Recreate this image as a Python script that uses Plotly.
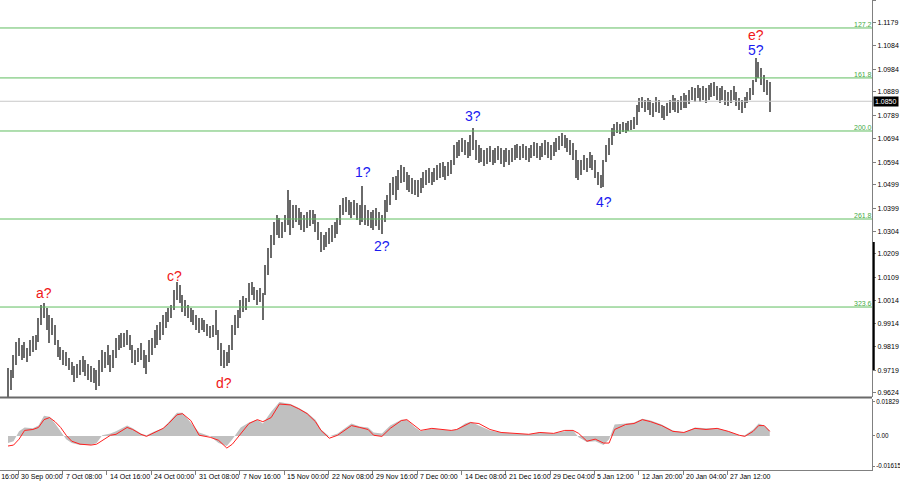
import plotly.graph_objects as go

# ---------------- data ----------------
bar_high = [
    0.9729,0.9721,0.9784,0.9838,0.9855,0.9826,0.9838,0.9813,0.9847,0.9864,
    0.9868,0.9939,0.9994,1.0002,0.9981,0.9952,0.9939,0.9910,0.9847,0.9817,
    0.9805,0.9796,0.9771,0.9754,0.9737,0.9746,0.9763,0.9780,0.9763,0.9746,
    0.9737,0.9729,0.9721,0.9763,0.9805,0.9796,0.9826,0.9784,0.9805,0.9855,
    0.9868,0.9876,0.9876,0.9889,0.9868,0.9826,0.9805,0.9813,0.9834,0.9805,
    0.9784,0.9847,0.9855,0.9889,0.9910,0.9922,0.9952,0.9964,0.9981,0.9994,
    1.0057,1.0091,1.0078,1.0036,1.0015,0.9994,0.9981,0.9973,0.9952,0.9939,
    0.9939,0.9931,0.9914,0.9906,0.9910,0.9973,0.9889,0.9834,0.9805,0.9796,
    0.9826,0.9910,0.9952,0.9973,1.0015,1.0032,1.0023,1.0086,1.0091,1.0070,
    1.0057,1.0065,1.0044,1.0162,1.0234,1.0288,1.0343,1.0372,1.0360,1.0343,
    1.0372,1.0477,1.0435,1.0414,1.0414,1.0402,1.0385,1.0372,1.0385,1.0393,
    1.0393,1.0376,1.0343,1.0301,1.0288,1.0301,1.0318,1.0330,1.0343,1.0360,
    1.0414,1.0444,1.0448,1.0435,1.0427,1.0435,1.0423,1.0414,1.0494,1.0414,
    1.0393,1.0385,1.0393,1.0402,1.0385,1.0372,1.0435,1.0456,1.0507,1.0532,
    1.0536,1.0561,1.0582,1.0574,1.0553,1.0540,1.0528,1.0519,1.0519,1.0528,
    1.0553,1.0561,1.0570,1.0553,1.0570,1.0582,1.0591,1.0595,1.0578,1.0595,
    1.0603,1.0667,1.0679,1.0688,1.0696,1.0688,1.0679,1.0709,1.0738,1.0688,
    1.0667,1.0654,1.0646,1.0654,1.0662,1.0646,1.0654,1.0662,1.0654,1.0646,
    1.0654,1.0646,1.0654,1.0667,1.0671,1.0662,1.0671,1.0662,1.0654,1.0667,
    1.0679,1.0675,1.0662,1.0675,1.0688,1.0679,1.0667,1.0679,1.0696,1.0704,
    1.0717,1.0709,1.0696,1.0688,1.0675,1.0646,1.0603,1.0603,1.0625,1.0612,
    1.0637,1.0625,1.0603,1.0553,1.0540,1.0603,1.0667,1.0696,1.0738,1.0755,
    1.0763,1.0755,1.0763,1.0759,1.0767,1.0772,1.0784,1.0835,1.0864,1.0868,
    1.0856,1.0864,1.0856,1.0843,1.0868,1.0856,1.0835,1.0830,1.0843,1.0856,
    1.0877,1.0864,1.0856,1.0873,1.0885,1.0877,1.0898,1.0910,1.0906,1.0919,
    1.0906,1.0915,1.0906,1.0919,1.0927,1.0931,1.0915,1.0906,1.0915,1.0898,
    1.0889,1.0898,1.0915,1.0889,1.0864,1.0856,1.0868,1.0889,1.0906,1.0940,
    1.1032,1.1015,1.0990,1.0961,1.0940,1.0931,
]
bar_low = [
    0.9607,0.9637,0.9687,0.9742,0.9780,0.9763,0.9771,0.9754,0.9780,0.9796,
    0.9805,0.9838,0.9910,0.9939,0.9889,0.9834,0.9868,0.9826,0.9775,0.9763,
    0.9742,0.9737,0.9721,0.9700,0.9670,0.9687,0.9700,0.9712,0.9695,0.9679,
    0.9670,0.9666,0.9637,0.9653,0.9712,0.9729,0.9742,0.9712,0.9729,0.9771,
    0.9805,0.9813,0.9817,0.9826,0.9805,0.9750,0.9742,0.9754,0.9763,0.9729,
    0.9704,0.9754,0.9784,0.9813,0.9826,0.9847,0.9868,0.9897,0.9922,0.9939,
    0.9973,1.0015,1.0002,0.9964,0.9948,0.9939,0.9922,0.9910,0.9889,0.9876,
    0.9889,0.9880,0.9864,0.9855,0.9859,0.9868,0.9805,0.9737,0.9729,0.9737,
    0.9750,0.9805,0.9868,0.9897,0.9939,0.9964,0.9973,1.0007,1.0036,1.0015,
    0.9994,1.0007,0.9931,1.0036,1.0120,1.0191,1.0246,1.0288,1.0276,1.0276,
    1.0301,1.0330,1.0288,1.0318,1.0343,1.0330,1.0309,1.0301,1.0318,1.0326,
    1.0334,1.0301,1.0267,1.0217,1.0225,1.0238,1.0250,1.0259,1.0276,1.0292,
    1.0330,1.0372,1.0385,1.0372,1.0360,1.0372,1.0351,1.0330,1.0343,1.0330,
    1.0326,1.0318,1.0309,1.0326,1.0309,1.0292,1.0343,1.0385,1.0414,1.0456,
    1.0435,1.0477,1.0507,1.0511,1.0477,1.0469,1.0460,1.0456,1.0448,1.0465,
    1.0486,1.0498,1.0507,1.0498,1.0511,1.0519,1.0528,1.0532,1.0519,1.0536,
    1.0545,1.0582,1.0612,1.0620,1.0637,1.0625,1.0612,1.0620,1.0646,1.0603,
    1.0591,1.0595,1.0578,1.0587,1.0595,1.0582,1.0591,1.0603,1.0587,1.0574,
    1.0595,1.0582,1.0595,1.0603,1.0612,1.0603,1.0612,1.0603,1.0595,1.0612,
    1.0620,1.0612,1.0603,1.0616,1.0625,1.0612,1.0603,1.0620,1.0637,1.0646,
    1.0662,1.0654,1.0637,1.0625,1.0603,1.0528,1.0519,1.0540,1.0561,1.0553,
    1.0570,1.0561,1.0528,1.0498,1.0486,1.0490,1.0595,1.0625,1.0667,1.0704,
    1.0717,1.0713,1.0721,1.0717,1.0725,1.0730,1.0734,1.0751,1.0805,1.0822,
    1.0805,1.0814,1.0793,1.0784,1.0805,1.0801,1.0780,1.0772,1.0788,1.0801,
    1.0814,1.0805,1.0801,1.0814,1.0822,1.0822,1.0839,1.0856,1.0847,1.0864,
    1.0847,1.0856,1.0843,1.0856,1.0868,1.0873,1.0856,1.0843,1.0856,1.0835,
    1.0830,1.0843,1.0856,1.0830,1.0814,1.0801,1.0822,1.0843,1.0856,1.0877,
    1.0931,1.0948,1.0919,1.0889,1.0877,1.0805,
]
bid_price = 1.0850

fib_labels = ["127.2", "161.8", "200.0", "261.8", "323.6"]
fib_prices = [1.1158, 1.0948, 1.0725, 1.0355, 0.9985]

price_ticks = [1.1275, 1.1179, 1.1084, 1.0984, 1.0889, 1.0789, 1.0694, 1.0594,
               1.0499, 1.0399, 1.0304, 1.0209, 1.0109, 1.0014, 0.9914, 0.9819,
               0.9719, 0.9624]

time_labels = ["22 Sep 16:00", "30 Sep 00:00", "7 Oct 08:00", "14 Oct 16:00",
               "24 Oct 00:00", "31 Oct 08:00", "7 Nov 16:00", "15 Nov 00:00",
               "22 Nov 08:00", "29 Nov 16:00", "7 Dec 00:00", "14 Dec 08:00",
               "21 Dec 16:00", "29 Dec 04:00", "5 Jan 12:00", "12 Jan 20:00",
               "20 Jan 04:00", "27 Jan 12:00"]
time_tick_bars = [-12.28, 3.72, 19.72, 35.72, 51.72, 67.72, 83.72, 99.72, 115.72,
                  131.72, 147.72, 163.72, 179.72, 195.72, 211.72, 227.72,
                  243.72, 259.72]

macd_bars = [0,2,4,6,9,11,13,15,17,19,21,23,26,30,32,34,37,39,43,45,48,50,53,56,58,
             61,63,66,69,73,76,79,81,84,87,90,92,95,98,102,105,108,111,113,116,119,
             122,124,127,130,132,135,138,142,144,147,149,153,156,160,162,165,167,170,
             174,178,183,188,192,197,201,204,206,209,212,215,217,219,223,226,229,232,
             236,240,244,248,252,256,260,264,266,269,271,273,275]
macd_hist = [-0.0038,-0.0028,0.0025,0.0046,0.0041,0.0056,0.0109,0.0104,0.0067,0.0025,
             -0.0017,-0.0038,-0.0049,-0.0049,-0.0038,0.0004,0.0014,0.0025,0.0056,0.0041,
             0.0014,0.0004,0.0025,0.0041,0.0077,0.0125,0.0125,0.0072,0.0019,-0.0002,
             -0.0038,-0.0054,-0.0017,0.0046,0.0072,0.0088,0.0067,0.0130,0.0183,0.0172,
             0.0151,0.0125,0.0088,0.0035,-0.0002,0.0014,0.0046,0.0067,0.0051,0.0046,
             0.0019,0.0014,0.0056,0.0088,0.0088,0.0046,0.0025,0.0041,0.0035,0.0030,
             0.0035,0.0067,0.0077,0.0056,0.0030,0.0019,0.0014,0.0009,0.0019,0.0014,
             0.0025,0.0030,-0.0007,-0.0033,-0.0028,-0.0049,-0.0017,0.0062,0.0067,0.0072,
             0.0093,0.0083,0.0062,0.0030,0.0019,0.0046,0.0041,0.0041,0.0025,0.0004,
             0.0004,0.0035,0.0067,0.0056,0.0030]
macd_signal = [-0.0054,-0.0049,-0.0017,0.0030,0.0035,0.0046,0.0088,0.0099,0.0077,0.0046,
               0.0004,-0.0028,-0.0044,-0.0049,-0.0044,-0.0023,0.0004,0.0009,0.0046,0.0035,
               0.0009,-0.0002,0.0019,0.0041,0.0067,0.0114,0.0120,0.0083,0.0004,-0.0007,
               -0.0023,-0.0065,-0.0044,0.0014,0.0067,0.0088,0.0077,0.0099,0.0172,0.0167,
               0.0146,0.0120,0.0077,0.0030,-0.0012,0.0004,0.0035,0.0056,0.0046,0.0035,
               0.0004,-0.0002,0.0041,0.0083,0.0088,0.0056,0.0030,0.0041,0.0035,0.0030,
               0.0035,0.0056,0.0072,0.0067,0.0035,0.0019,0.0014,0.0009,0.0019,0.0014,
               0.0030,0.0030,0.0014,-0.0028,-0.0017,-0.0038,-0.0038,0.0035,0.0062,0.0067,
               0.0088,0.0077,0.0056,0.0025,0.0019,0.0041,0.0035,0.0041,0.0025,0.0004,
               -0.0002,0.0025,0.0056,0.0056,0.0025]
macd_ticks = [0.01829, 0.0, -0.01615]
macd_ticktext = ["0.01829", "0.00", "-0.01615"]

wave_text = ["a?", "c?", "d?", "1?", "2?", "3?", "4?", "5?", "e?"]
wave_bar = [13, 60, 78, 128, 135, 168, 215, 270, 270]
wave_side = ["high", "high", "low", "high", "low", "high", "low", "high", "high"]
wave_color = ["#f01818", "#f01818", "#f01818", "#1a1af0", "#1a1af0", "#1a1af0",
              "#1a1af0", "#1a1af0", "#f01818"]
wave_shift = [0, -4, -5, 4, -2, 2, -4, -2, 13]

# ---------------- figure ----------------
N = len(bar_high)
XMIN, XMAX = -2.888, 311.91
FONT = "Liberation Sans"
GREEN = "rgb(96,190,96)"

fig = go.Figure()
fig.add_trace(go.Bar(
    x=list(range(N)), y=[h - l for h, l in zip(bar_high, bar_low)], base=bar_low,
    width=0.5, marker=dict(color="#6a6a6a", line=dict(width=0)),
    xaxis="x", yaxis="y", hoverinfo="skip", showlegend=False))

fig.add_trace(go.Scatter(
    x=macd_bars, y=macd_hist, mode="lines", line=dict(width=0, color="#c0c0c0"),
    fill="tozeroy", fillcolor="#c0c0c0", xaxis="x2", yaxis="y2",
    hoverinfo="skip", showlegend=False))
fig.add_trace(go.Scatter(
    x=macd_bars, y=macd_signal, mode="lines", line=dict(width=1, color="#ff2020"),
    xaxis="x2", yaxis="y2", hoverinfo="skip", showlegend=False))

shapes = []
for p in fib_prices:
    shapes.append(dict(type="line", xref="paper", yref="y", x0=0, x1=1, y0=p, y1=p,
                       line=dict(color=GREEN, width=1)))
shapes.append(dict(type="line", xref="paper", yref="y", x0=0, x1=1, y0=bid_price,
                   y1=bid_price, line=dict(color="#c8c8c8", width=1)))
# pane separator
shapes.append(dict(type="line", xref="paper", yref="paper", x0=0, x1=1,
                   y0=1 - 397.5 / 470, y1=1 - 397.5 / 470,
                   line=dict(color="#6a6a6a", width=2)))
# dark scale marker on right axis
shapes.append(dict(type="line", xref="paper", yref="paper", x0=1.002, x1=1.002,
                   y0=1 - 242 / 470, y1=1 - 370 / 470,
                   line=dict(color="#000000", width=2)))

ann = []
for lab, p in zip(fib_labels, fib_prices):
    ann.append(dict(text=lab, xref="paper", yref="y", x=1, y=p, xanchor="right",
                    yanchor="bottom", xshift=2, yshift=-2, showarrow=False,
                    font=dict(family=FONT, size=7, color="rgb(70,170,70)")))
ann.append(dict(text="%.4f" % bid_price, xref="paper", yref="y", x=1, y=bid_price,
                xanchor="left", yanchor="middle", xshift=1, showarrow=False,
                bgcolor="#000000", borderpad=1,
                font=dict(family=FONT, size=7, color="#ffffff")))
for lab, b in zip(time_labels, time_tick_bars):
    ann.append(dict(text=lab, xref="paper", yref="paper",
                    x=(b - XMIN) / (XMAX - XMIN), y=0, xanchor="left", yanchor="top",
                    xshift=1, yshift=-1, showarrow=False,
                    font=dict(family=FONT, size=7, color="#000000")))
for t, b, s, c, sh in zip(wave_text, wave_bar, wave_side, wave_color, wave_shift):
    yv = max(bar_high[b - 1:b + 2]) if s == "high" else min(bar_low[b - 1:b + 2])
    ann.append(dict(text=t, xref="x", yref="y", x=b, y=yv,
                    xanchor="center", yanchor="bottom" if s == "high" else "top",
                    yshift=sh, showarrow=False,
                    font=dict(family=FONT, size=14, color=c)))

fig.update_layout(
    width=900, height=485, margin=dict(l=0, r=28, t=0, b=15, autoexpand=False),
    paper_bgcolor="white", plot_bgcolor="white", bargap=0,
    shapes=shapes, annotations=ann, showlegend=False,
    xaxis=dict(domain=[0, 1], range=[XMIN, XMAX], anchor="y", visible=False,
               showgrid=False, zeroline=False, automargin=False),
    yaxis=dict(domain=[1 - 397 / 470, 1], range=[0.96068, 1.12756], side="right",
               anchor="x", tickvals=price_ticks, automargin=False,
               ticktext=["%.4f" % v for v in price_ticks],
               tickfont=dict(family=FONT, size=7, color="#000000"),
               ticks="outside", ticklen=3, tickcolor="#808080",
               showline=True, linecolor="#808080", linewidth=1,
               showgrid=False, zeroline=False),
    xaxis2=dict(domain=[0, 1], range=[XMIN, XMAX], anchor="y2", automargin=False,
                tickvals=time_tick_bars[1:], ticks="outside", ticklen=4,
                tickcolor="#808080", showticklabels=False, showline=True,
                linecolor="#808080", showgrid=False, zeroline=False),
    yaxis2=dict(domain=[0, 71 / 470], range=[-0.0183, 0.0199], side="right",
                anchor="x2", tickvals=macd_ticks, ticktext=macd_ticktext,
                automargin=False,
                tickfont=dict(family=FONT, size=6.3, color="#000000"),
                ticks="outside", ticklen=2, tickcolor="#808080",
                showline=True, linecolor="#808080", showgrid=False, zeroline=False),
)

fig.write_html(
    "out.html", config={"displayModeBar": False},
    post_script="document.body.style.margin='0';document.body.style.padding='0';"
                "document.body.style.overflow='hidden';")
